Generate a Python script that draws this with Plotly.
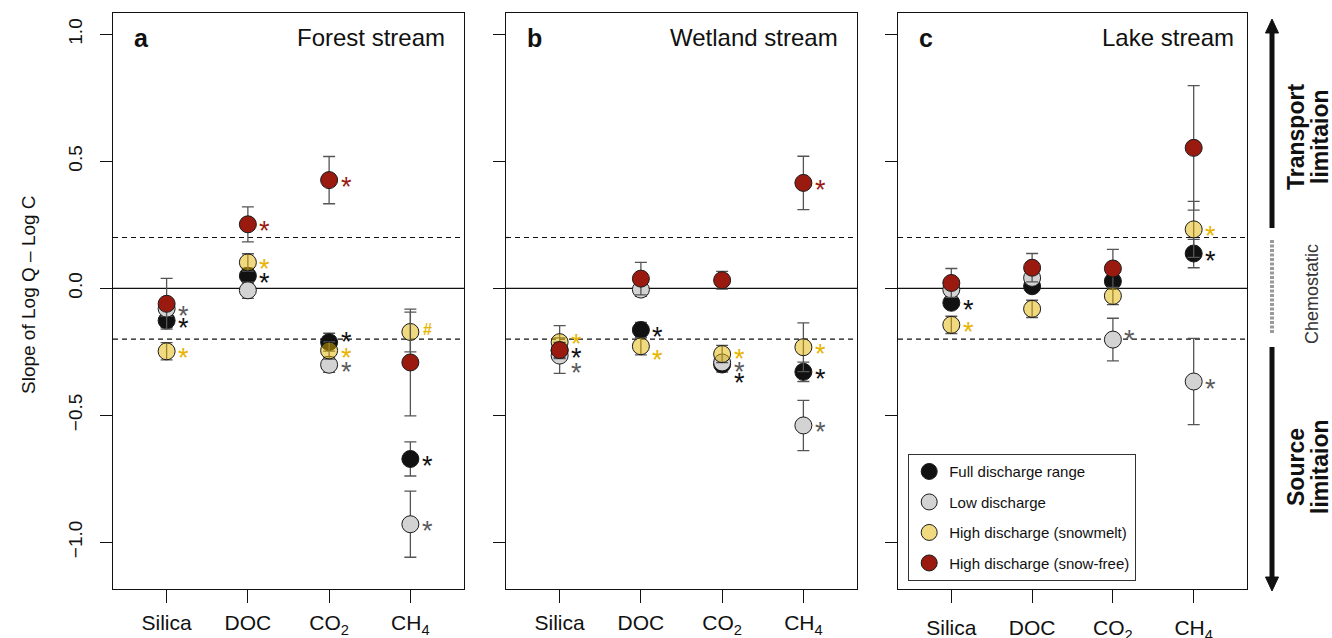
import plotly.graph_objects as go

# ---------------- data ----------------
categories = ["Silica", "DOC", "CO<sub>2</sub>", "CH<sub>4</sub>"]
x_pos = [1, 2, 3, 4]
series_names = ["Full discharge range", "Low discharge",
                "High discharge (snowmelt)", "High discharge (snow-free)"]
panel_titles = ["Forest stream", "Wetland stream", "Lake stream"]
panel_letters = ["a", "b", "c"]
y_tickvals = [-1.0, -0.5, 0.0, 0.5, 1.0]
y_ticktext = ["\u22121.0", "\u22120.5", "0.0", "0.5", "1.0"]

# Panel a (Forest stream)
a_full = [-0.127, 0.049, -0.212, -0.672]
a_full_err = [0.028, 0.030, 0.035, 0.067]
a_low = [-0.080, -0.008, -0.301, -0.929]
a_low_err = [0.030, 0.032, 0.030, 0.130]
a_snow = [-0.248, 0.102, -0.245, -0.172]
a_snow_err = [0.034, 0.034, 0.034, 0.078]
a_free = [-0.061, 0.252, 0.426, -0.292]
a_free_err = [0.100, 0.069, 0.093, 0.210]

# Panel b (Wetland stream)
b_full = [-0.245, -0.164, -0.300, -0.329]
b_full_err = [0.030, 0.030, 0.030, 0.038]
b_low = [-0.265, -0.005, -0.292, -0.540]
b_low_err = [0.070, 0.027, 0.020, 0.099]
b_snow = [-0.212, -0.228, -0.259, -0.232]
b_snow_err = [0.065, 0.034, 0.034, 0.096]
b_free = [-0.243, 0.038, 0.032, 0.415]
b_free_err = [0.030, 0.064, 0.035, 0.105]

# Panel c (Lake stream)
c_full = [-0.057, 0.008, 0.028, 0.137]
c_full_err = [0.020, 0.020, 0.030, 0.056]
c_low = [-0.005, 0.041, -0.202, -0.367]
c_low_err = [0.020, 0.020, 0.084, 0.170]
c_snow = [-0.144, -0.081, -0.030, 0.232]
c_snow_err = [0.034, 0.034, 0.034, 0.110]
c_free = [0.021, 0.081, 0.078, 0.553]
c_free_err = [0.057, 0.056, 0.075, 0.245]

# significance labels per point
a_sig = [["*", "*", "*", "*"], ["*", "", "*", "*"], ["*", "*", "*", "#"], ["", "*", "*", ""]]
b_sig = [["*", "*", "*", "*"], ["*", "", "*", "*"], ["*", "*", "*", "*"], ["", "", "", "*"]]
c_sig = [["*", "", "", "*"], ["", "", "*", "*"], ["*", "", "", "*"], ["", "", "", ""]]

# ---------------- styles ----------------
W, H = 1332, 638
FONT = "Arial, Liberation Sans, Helvetica, sans-serif"
fills = ["#111111", "#d3d3d3", "rgba(228,180,0,0.5)", "#9b1a10"]
star_colors = ["#111111", "#5c5c5c", "#e8b400", "#9b1a10"]
# vertical nudges (px, + = up) for crowded labels: [panel][series][category]
star_nudge = [
    [[0, 0, 7, 0], [0, 0, 0, 0], [0, 0, 0, 0], [0, 0, 0, 0]],
    [[0, 0, -12, 0], [-10, 0, -3, 0], [5, -7, 2, 0], [0, 0, 0, 0]],
    [[0, 0, 0, 0], [0, 0, 7, 0], [0, 0, 0, 0], [0, 0, 0, 0]],
]
panel_px = [(113, 464), (506, 857), (898, 1247)]
top_px, bot_px = 13, 589
title_xshift = [-17, -17, -11]
xlabel_standoff = [2, 2, 7]

panels = [
    ([a_full, a_low, a_snow, a_free], [a_full_err, a_low_err, a_snow_err, a_free_err], a_sig),
    ([b_full, b_low, b_snow, b_free], [b_full_err, b_low_err, b_snow_err, b_free_err], b_sig),
    ([c_full, c_low, c_snow, c_free], [c_full_err, c_low_err, c_snow_err, c_free_err], c_sig),
]

fig = go.Figure()
annotations = []
shapes = []

def py(p):
    return 1 - p / H

for i, (vals, errs, sigs) in enumerate(panels):
    xa = "x" if i == 0 else f"x{i+1}"
    ya = "y" if i == 0 else f"y{i+1}"
    # reference lines
    for yv, dash in [(0.0, "solid"), (0.2, "5px,4px"), (-0.2, "5px,4px")]:
        shapes.append(dict(type="line", xref=f"{xa} domain", yref=ya, x0=0, x1=1,
                           y0=yv, y1=yv, line=dict(color="#111111", width=1.2, dash=dash),
                           layer="below"))
    for s in range(4):
        fig.add_trace(go.Scatter(
            x=x_pos, y=vals[s], mode="markers", name=series_names[s],
            xaxis=xa, yaxis=ya, showlegend=(i == 0), legendgroup=series_names[s],
            marker=dict(size=17, color=fills[s], line=dict(color="#1a1a1a", width=1)),
            error_y=dict(type="data", array=errs[s], color="#555555", thickness=1.3, width=6),
            hoverinfo="skip",
        ))
        for k in range(4):
            lab = sigs[s][k]
            if not lab:
                continue
            if lab == "*":
                annotations.append(dict(
                    x=x_pos[k], y=vals[s][k], xref=xa, yref=ya, text="*",
                    showarrow=False, xanchor="center", yanchor="middle",
                    xshift=17, yshift=-7 + star_nudge[i][s][k],
                    font=dict(family=FONT, size=27, color=star_colors[s])))
            else:
                annotations.append(dict(
                    x=x_pos[k], y=vals[s][k], xref=xa, yref=ya, text="<b>#</b>",
                    showarrow=False, xanchor="center", yanchor="middle",
                    xshift=17, yshift=2,
                    font=dict(family=FONT, size=16, color=star_colors[s])))
    # panel letter and title
    annotations.append(dict(x=0, y=1, xref=f"{xa} domain", yref=f"{ya} domain",
                            text=f"<b>{panel_letters[i]}</b>", showarrow=False,
                            xanchor="left", yanchor="top", xshift=19, yshift=-9,
                            font=dict(family=FONT, size=25, color="#111111")))
    annotations.append(dict(x=1, y=1, xref=f"{xa} domain", yref=f"{ya} domain",
                            text=panel_titles[i], showarrow=False,
                            xanchor="right", yanchor="top", xshift=title_xshift[i], yshift=-9,
                            font=dict(family=FONT, size=24, color="#111111")))

layout = dict(
    width=W, height=H, margin=dict(l=0, r=0, t=0, b=0, autoexpand=False),
    plot_bgcolor="white", paper_bgcolor="white",
    font=dict(family=FONT, color="#111111"),
    showlegend=True,
    legend=dict(x=908 / W, y=py(454), xanchor="left", yanchor="top",
                bordercolor="#333333", borderwidth=1.2, bgcolor="white",
                font=dict(family=FONT, size=15, color="#111111"),
                traceorder="grouped", tracegroupgap=8, itemsizing="trace"),
)
for i in range(3):
    xk = "xaxis" if i == 0 else f"xaxis{i+1}"
    yk = "yaxis" if i == 0 else f"yaxis{i+1}"
    x0, x1 = panel_px[i]
    layout[xk] = dict(domain=[x0 / W, x1 / W], anchor="y" if i == 0 else f"y{i+1}",
                      range=[0.34, 4.66], tickvals=x_pos, ticktext=categories,
                      ticks="outside", ticklen=13, tickcolor="#111111", tickwidth=1,
                      showline=True, mirror=True, linecolor="#111111", linewidth=1.2,
                      showgrid=False, zeroline=False, ticklabelstandoff=xlabel_standoff[i],
                      automargin=False,
                      tickfont=dict(family=FONT, size=21, color="#111111"), fixedrange=True)
    layout[yk] = dict(domain=[py(bot_px), py(top_px)], anchor="x" if i == 0 else f"x{i+1}",
                      range=[-1.184, 1.084], tickvals=y_tickvals, ticktext=y_ticktext,
                      showticklabels=(i == 0), automargin=False,
                      ticks="outside", ticklen=12, tickcolor="#111111", tickwidth=1,
                      tickangle=-90, ticklabelstandoff=10,
                      showline=True, mirror=True, linecolor="#111111", linewidth=1.2,
                      showgrid=False, zeroline=False,
                      tickfont=dict(family=FONT, size=19, color="#111111"), fixedrange=True)

# y axis title
annotations.append(dict(x=28 / W, y=py(295), xref="paper", yref="paper",
                        text="Slope of Log Q \u2013 Log C", textangle=-90, showarrow=False,
                        xanchor="center", yanchor="middle",
                        font=dict(family=FONT, size=19, color="#111111")))

# right-side interpretation arrow
ax = 1272 / W
hw = 6.5 / W
shapes += [
    dict(type="line", xref="paper", yref="paper", x0=ax, x1=ax, y0=py(30), y1=py(228),
         line=dict(color="#111111", width=5)),
    dict(type="line", xref="paper", yref="paper", x0=ax, x1=ax, y0=py(347), y1=py(580),
         line=dict(color="#111111", width=5)),
    dict(type="line", xref="paper", yref="paper", x0=ax, x1=ax, y0=py(240), y1=py(333),
         line=dict(color="#9a9a9a", width=4, dash="3px,1.5px")),
    dict(type="path", xref="paper", yref="paper",
         path=f"M {ax-hw},{py(33)} L {ax+hw},{py(33)} L {ax},{py(19)} Z",
         fillcolor="#111111", line=dict(color="#111111", width=1)),
    dict(type="path", xref="paper", yref="paper",
         path=f"M {ax-hw},{py(577)} L {ax+hw},{py(577)} L {ax},{py(591)} Z",
         fillcolor="#111111", line=dict(color="#111111", width=1)),
]
for txt, xp, yp in [("Transport", 1296, 137), ("limitaion", 1320, 137),
                    ("Source", 1296, 467), ("limitaion", 1320, 467)]:
    annotations.append(dict(x=xp / W, y=py(yp), xref="paper", yref="paper",
                            text=f"<b>{txt}</b>", textangle=-90, showarrow=False,
                            xanchor="center", yanchor="middle",
                            font=dict(family=FONT, size=23, color="#111111")))
annotations.append(dict(x=1312 / W, y=py(294), xref="paper", yref="paper",
                        text="Chemostatic", textangle=-90, showarrow=False,
                        xanchor="center", yanchor="middle",
                        font=dict(family=FONT, size=18, color="#333333")))

layout["annotations"] = annotations
layout["shapes"] = shapes
fig.update_layout(**layout)
fig.write_html("out.html", config={"displayModeBar": False, "responsive": False},
               post_script="document.body.style.margin='0px';document.body.style.overflow='hidden';")
